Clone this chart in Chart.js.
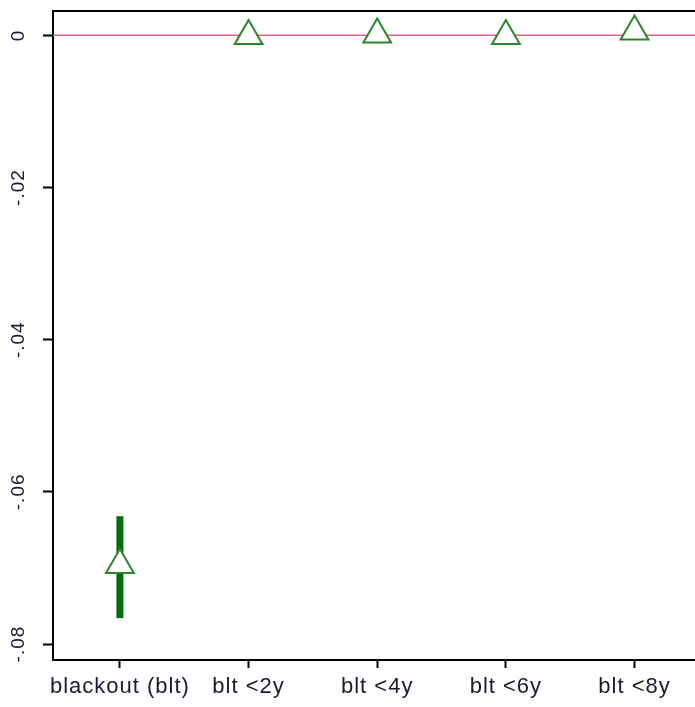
<!DOCTYPE html>
<html>
<head>
<meta charset="utf-8">
<script src="https://cdn.jsdelivr.net/npm/chart.js@4/dist/chart.umd.min.js"></script>
<style>
	body { margin: 0; background: #fff; }
	#wrap { width: 695px; height: 707px; }
</style>
</head>
<body>
<div id="wrap"><canvas id="coef_chart" width="695" height="707"></canvas></div>
<script>
// categories and estimates
var categories = ['blackout (blt)', 'blt <2y', 'blt <4y', 'blt <6y', 'blt <8y'];
var estimates = [-0.0696, -0.0001, 0.0001, -0.0001, 0.0005];
var ciLow = [-0.0766, -0.0003, -0.0001, -0.0003, 0.0003];
var ciHigh = [-0.0632, 0.0001, 0.0003, 0.0001, 0.0007];
var yTicks = [0, -0.02, -0.04, -0.06, -0.08];
var yTickLabels = ['0', '-.02', '-.04', '-.06', '-.08'];

Chart.defaults.font.family = "'Liberation Sans', Arial, sans-serif";

function renderCoefChart() {
	var ctx = document.getElementById('coef_chart').getContext('2d');

	var points = [];
	for (var i = 0; i < categories.length; i++) {
		points.push({ x: i + 1, y: estimates[i] });
	}

	window.coefChart = new Chart(ctx, {
		type: 'scatter',
		data: {
			datasets: [{
				data: points,
				pointStyle: 'triangle',
				pointRadius: 16,
				pointHoverRadius: 16,
				borderWidth: 2,
				borderColor: '#2b862b',
				backgroundColor: '#ffffff'
			}]
		},
		options: {
			responsive: false,
			animation: false,
			layout: {
				autoPadding: false,
				padding: { top: 11, right: 0, left: 0, bottom: 0 }
			},
			scales: {
				x: {
					type: 'linear',
					min: 0.48,
					max: 5.47,
					afterBuildTicks: function (scale) {
						scale.ticks = categories.map(function (c, i) { return { value: i + 1 }; });
					},
					afterFit: function (scale) { scale.height = 47; },
					grid: {
						drawOnChartArea: false,
						drawTicks: true,
						tickLength: 8,
						tickWidth: 2,
						color: '#000'
					},
					border: { display: true, width: 2, color: '#000' },
					ticks: {
						color: '#1c1a30',
						font: { size: 22 },
						padding: 6,
						maxRotation: 0,
						autoSkip: false,
						callback: function (value) { return categories[value - 1]; }
					}
				},
				y: {
					min: -0.0821,
					max: 0.0032,
					afterBuildTicks: function (scale) {
						scale.ticks = yTicks.map(function (v) { return { value: v }; });
					},
					afterFit: function (scale) { scale.width = 53; },
					grid: {
						drawOnChartArea: false,
						drawTicks: true,
						tickLength: 10,
						tickWidth: 2,
						color: '#000'
					},
					border: { display: true, width: 2, color: '#000' },
					ticks: { display: false }
				}
			},
			plugins: {
				legend: { display: false },
				tooltip: { enabled: false }
			}
		},
		plugins: [{
			id: 'coefExtras',
			beforeDraw: function (chart) {
				// the original labels are set wide
				chart.ctx.letterSpacing = '1px';
			},
			beforeDatasetsDraw: function (chart) {
				var c = chart.ctx;
				var xs = chart.scales.x;
				var ys = chart.scales.y;
				var area = chart.chartArea;

				c.save();
				// zero reference line
				var y0 = ys.getPixelForValue(0);
				c.strokeStyle = '#e0608c';
				c.lineWidth = 1.5;
				c.beginPath();
				c.moveTo(area.left, y0);
				c.lineTo(area.right, y0);
				c.stroke();

				// top frame line
				c.strokeStyle = '#000';
				c.lineWidth = 2;
				c.beginPath();
				c.moveTo(area.left - 1, area.top);
				c.lineTo(area.right, area.top);
				c.stroke();

				// confidence intervals
				c.strokeStyle = '#0b6a0b';
				c.lineWidth = 7;
				for (var i = 0; i < categories.length; i++) {
					var px = xs.getPixelForValue(i + 1);
					c.beginPath();
					c.moveTo(px, ys.getPixelForValue(ciLow[i]));
					c.lineTo(px, ys.getPixelForValue(ciHigh[i]));
					c.stroke();
				}

				// rotated y tick labels
				c.fillStyle = '#1c1a30';
				c.font = "19px 'Liberation Sans', Arial, sans-serif";
				c.textAlign = 'center';
				c.textBaseline = 'middle';
				for (var j = 0; j < yTicks.length; j++) {
					c.save();
					c.translate(19, ys.getPixelForValue(yTicks[j]));
					c.rotate(-Math.PI / 2);
					c.fillText(yTickLabels[j], 0, 0);
					c.restore();
				}
				c.restore();
			}
		}]
	});
}

renderCoefChart();
</script>
</body>
</html>
